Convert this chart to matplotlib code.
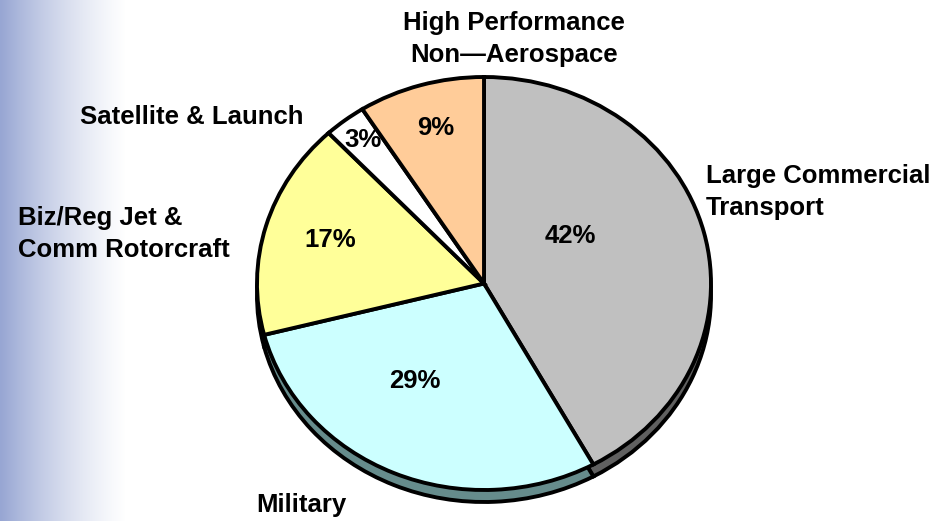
import matplotlib
matplotlib.use('Agg')
import matplotlib.pyplot as plt
import numpy as np

# market share by segment, clockwise from 12 o'clock
segments = ['Large Commercial\nTransport', 'Military', 'Biz/Reg Jet &\nComm Rotorcraft',
            'Satellite & Launch', 'High Performance\nNon\u2014Aerospace']
shares = [42, 29, 17, 3, 9]
colors = ['#C0C0C0', '#CCFFFF', '#FFFF99', '#FFFFFF', '#FFCC99']
side_colors = ['#606060', '#668C8C', '#8C8C4C', '#8C8C8C', '#8C6C4C']

# label placement (figure pixels from top-left), alignment
label_pos = [(706, 192, 'left'), (256, 505, 'left'), (18, 234, 'left'),
             (80, 117, 'left'), (514, 39, 'center')]
pct_pos = [(570, 236), (415, 381), (330, 240), (363, 140), (436, 128)]

W, H = 941, 521
plt.rcParams['font.family'] = ['Liberation Sans', 'DejaVu Sans']
fig = plt.figure(figsize=(W / 100, H / 100), dpi=100)

# left edge gradient
bg = fig.add_axes([0, 0, 1, 1])
grad = np.ones((2, W, 3))
c0 = np.array([0x97, 0xA6, 0xD3]) / 255.0
t = np.clip(np.arange(W) / 125.0, 0, 1)
t = t * (1.4 - 0.4 * t)
for k in range(3):
    grad[:, :, k] = c0[k] + (1 - c0[k]) * t
bg.imshow(grad, extent=[0, W, 0, H], aspect='auto')
bg.set_xlim(0, W)
bg.set_ylim(0, H)
bg.axis('off')

# pie axes: top face spans x 257..711, y 77..490 (px)
x0, x1, y0, y1 = 257, 711, 77, 490
ax = fig.add_axes([x0 / W, (H - y1) / H, (x1 - x0) / W, (y1 - y0) / H])

depth = 12 / ((y1 - y0) / 2)
wp = dict(edgecolor='black', linewidth=2.8, clip_on=False)
w_side, _ = ax.pie(shares, colors=side_colors, startangle=90, counterclock=False,
                   radius=1, center=(0, -depth), wedgeprops=wp, frame=True)
w_top, _ = ax.pie(shares, colors=colors, startangle=90, counterclock=False,
                  radius=1, center=(0, 0), wedgeprops=wp, frame=True)
for w in w_side:
    w.set_zorder(1)
for w in w_top:
    w.set_zorder(2)
ax.set_xlim(-1, 1)
ax.set_ylim(-1, 1)
ax.set_aspect('auto')
ax.axis('off')

for name, (px, py, ha) in zip(segments, label_pos):
    fig.text(px / W, 1 - py / H, name, ha=ha, va='center', fontsize=18.5,
             fontweight='bold', linespacing=1.45)
for val, (px, py) in zip(shares, pct_pos):
    fig.text(px / W, 1 - py / H, f'{val}%', ha='center', va='center',
             fontsize=18.5, fontweight='bold', zorder=5)

fig.savefig('out.png', dpi=100)
